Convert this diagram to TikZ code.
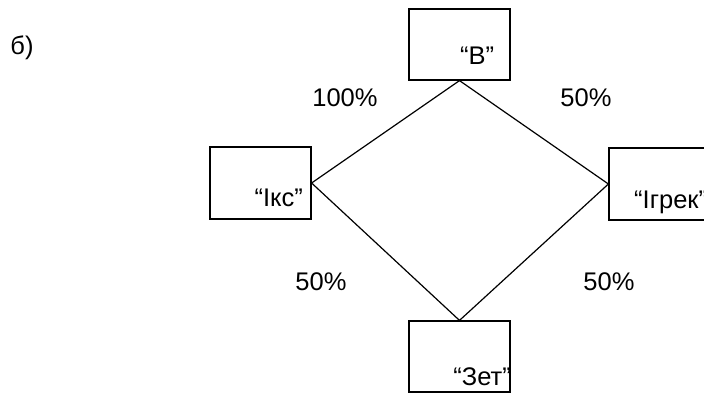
\documentclass[tikz,border=0pt]{standalone}
\usepackage{fontspec}
\setmainfont{Liberation Sans}
\begin{document}
\begin{tikzpicture}[x=1pt,y=-1pt,
  box/.style={draw,line width=1.2pt,rectangle,inner sep=0pt,minimum width=101pt,minimum height=71pt},
  lbl/.style={inner sep=0pt,font=\fontsize{25.5}{30}\selectfont},
  conn/.style={line width=1.2pt}]
\useasboundingbox (0,0) rectangle (704,394);
\clip (0,0) rectangle (704,394);
\node[lbl] (title) at (22,48) {б)};
\node[box] (B) at (459.5,44.5) {};
\node[box,minimum height=72pt] (I) at (260.5,183) {};
\node[box,minimum height=72pt] (Y) at (659.5,184) {};
\node[box] (Z) at (459.5,356.5) {};
\node[lbl,anchor=base] (tB) at (477,64) {“В”};
\node[lbl,anchor=base east] (tI) at (303,206) {“Ікс”};
\node[lbl,anchor=base west] (tY) at (634,208) {“Ігрек”};
\node[lbl,anchor=base east] (tZ) at (511,385) {“Зет”};
\draw[conn] (B.south) -- (I.east) -- (Z.north) -- (Y.west) -- cycle;
\node[lbl] (p1) at (345,98) {100\%};
\node[lbl] (p2) at (586,98) {50\%};
\node[lbl] (p3) at (321,282) {50\%};
\node[lbl] (p4) at (609,282) {50\%};
\end{tikzpicture}
\end{document}
